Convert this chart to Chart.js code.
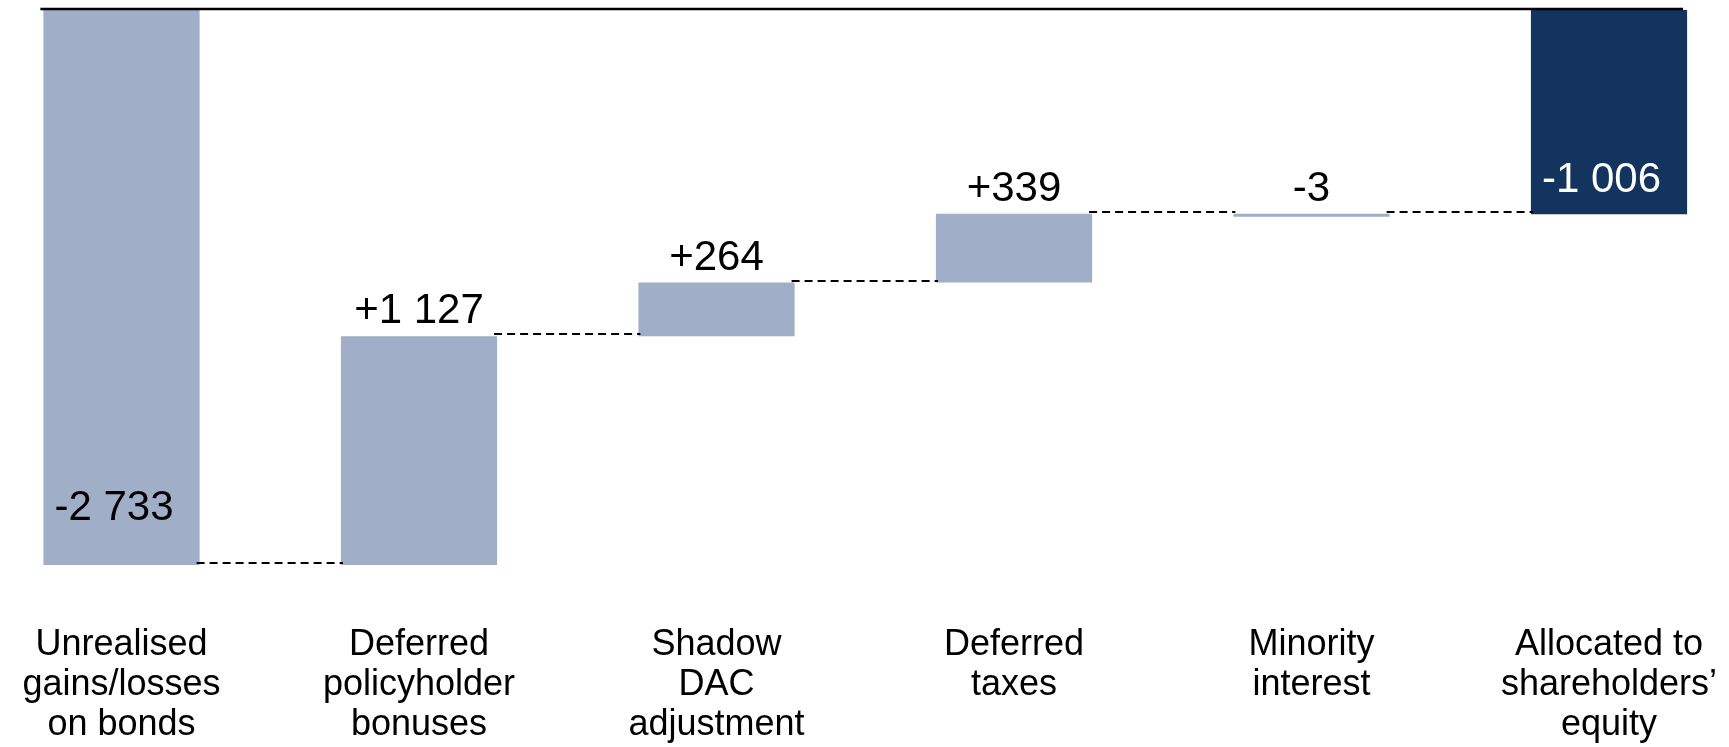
<!DOCTYPE html>
<html>
<head>
<meta charset="utf-8">
<script src="https://cdn.jsdelivr.net/npm/chart.js@4"></script>
<style>
  html, body { margin: 0; padding: 0; background: #fff; }
  #wrap { width: 1729px; height: 747px; }
</style>
</head>
<body>
<div id="wrap"><canvas id="waterfall"></canvas></div>
<script>
  // data
  const categories = [
    ['Unrealised', 'gains/losses', 'on bonds'],
    ['Deferred', 'policyholder', 'bonuses'],
    ['Shadow', 'DAC', 'adjustment'],
    ['Deferred', 'taxes'],
    ['Minority', 'interest'],
    ['Allocated to', 'shareholders\u2019', 'equity']
  ];
  const changes = [-2733, 1127, 264, 339, -3];
  const totalValue = -1006;
  const valueLabels = ['-2 733', '+1 127', '+264', '+339', '-3', '-1 006'];

  // floating [from, to] ranges for the waterfall
  const ranges = [];
  const levels = [];
  let running = 0;
  changes.forEach(c => {
    ranges.push([running, running + c]);
    running += c;
    levels.push(running);
  });
  ranges.push([0, totalValue]);

  const lightBlue = '#a0aec7';
  const darkBlue = '#12345f';
  const barColors = ranges.map((r, i) => i === ranges.length - 1 ? darkBlue : lightBlue);

  const waterfallDecor = {
    id: 'waterfallDecor',
    afterDatasetsDraw(chart) {
      const ctx = chart.ctx;
      const bars = chart.getDatasetMeta(0).data;
      const y = chart.scales.y;

      ctx.save();
      // dashed connectors between bars
      ctx.strokeStyle = '#000';
      ctx.lineWidth = 2;
      ctx.setLineDash([8, 5]);
      levels.forEach((lvl, i) => {
        const a = bars[i], b = bars[i + 1];
        const py = Math.round(y.getPixelForValue(lvl)) - 2;
        ctx.beginPath();
        ctx.moveTo(a.x + a.width / 2 - 3, py);
        ctx.lineTo(b.x - b.width / 2 + 2, py);
        ctx.stroke();
      });
      ctx.setLineDash([]);

      // zero line across the top
      const first = bars[0], last = bars[bars.length - 1];
      const y0 = y.getPixelForValue(0) - 1;
      ctx.lineWidth = 2.5;
      ctx.beginPath();
      ctx.moveTo(first.x - first.width / 2 - 3, y0);
      ctx.lineTo(last.x + last.width / 2 - 4, y0);
      ctx.stroke();

      // value labels
      ctx.font = '42px Arial, "Liberation Sans", sans-serif';
      ctx.textBaseline = 'alphabetic';
      bars.forEach((bar, i) => {
        const top = Math.min(bar.y, bar.base);
        const bottom = Math.max(bar.y, bar.base);
        if (i === 0 || i === bars.length - 1) {
          ctx.fillStyle = i === 0 ? '#000' : '#fff';
          ctx.textAlign = 'left';
          const off = i === 0 ? 45 : 22;
          ctx.fillText(valueLabels[i], bar.x - bar.width / 2 + 11, bottom - off);
        } else {
          ctx.fillStyle = '#000';
          ctx.textAlign = 'center';
          ctx.fillText(valueLabels[i], bar.x, top - 13);
        }
      });
      ctx.restore();
    }
  };

  new Chart(document.getElementById('waterfall'), {
    type: 'bar',
    data: {
      labels: categories,
      datasets: [{
        data: ranges,
        backgroundColor: barColors,
        borderWidth: 0,
        minBarLength: 3,
        categoryPercentage: 1,
        barPercentage: 0.525,
        clip: false
      }]
    },
    options: {
      responsive: true,
      maintainAspectRatio: false,
      animation: false,
      layout: { padding: { left: 121.5, right: 120, top: 10, bottom: 0 } },
      plugins: {
        legend: { display: false },
        tooltip: { enabled: false }
      },
      scales: {
        x: {
          offset: false,
          grid: { display: false, drawTicks: false },
          border: { display: false },
          ticks: {
            color: '#000',
            padding: 60.5,
            maxRotation: 0,
            autoSkip: false,
            font: { family: 'Arial, "Liberation Sans", sans-serif', size: 36, lineHeight: 1.111 }
          },
          afterFit(scale) {
            // keep the label block from pushing the plot area around
            scale.paddingLeft = 0;
            scale.paddingRight = 0;
            scale.height = 182;
          }
        },
        y: {
          display: false,
          min: -2733,
          max: 0
        }
      }
    },
    plugins: [waterfallDecor]
  });
</script>
</body>
</html>
